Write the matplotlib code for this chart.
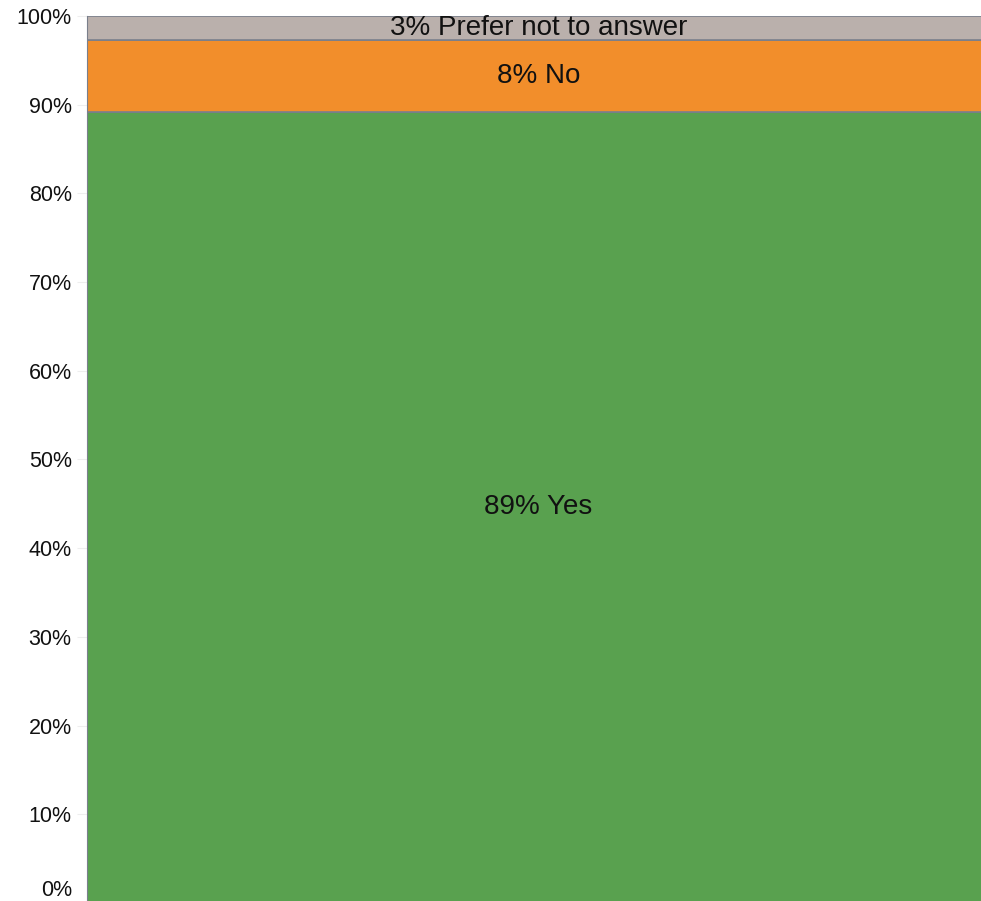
import matplotlib.pyplot as plt

categories = ['Yes', 'No', 'Prefer not to answer']
values = [89.2, 8.1, 2.7]
labels = ['89% Yes', '8% No', '3% Prefer not to answer']
colors = ['#59a14f', '#f28e2b', '#bab0ac']
yticks = [0, 10, 20, 30, 40, 50, 60, 70, 80, 90, 100]

plt.rcParams['font.family'] = ['Liberation Sans', 'DejaVu Sans']

fig = plt.figure(figsize=(9.81, 9.01), dpi=100)
ax = fig.add_axes([87 / 981, -2 / 901, 1.0, 885 / 901 + 2 / 901])

bottom = 0
for val, lab, col in zip(values, labels, colors):
    ax.bar(0.5, val, width=1.0, bottom=bottom, color=col,
           edgecolor='#7a7f8c', linewidth=1.2)
    ax.text(0.46, bottom + val / 2, lab, ha='center', va='center',
            fontsize=20, color='#111111')
    bottom += val

ax.set_xlim(0, 1.0)
ax.set_ylim(0, 100)
ax.set_yticks(yticks)
# bottom label is lifted so it stays inside the figure
ax.set_yticklabels([''] + [f'{t}%' for t in yticks[1:]], fontsize=15.5, color='#111111')
ax.annotate(f'{yticks[0]}%', xy=(0, yticks[0]), xycoords=('axes fraction', 'data'),
            xytext=(-15, 13), textcoords='offset pixels', ha='right', va='center',
            fontsize=15.5, color='#111111')
ax.tick_params(axis='y', length=7, color='#eeeeee', pad=4)
ax.set_xticks([])
for s in ['top', 'right', 'bottom']:
    ax.spines[s].set_visible(False)
ax.spines['left'].set_color('#7a7f8c')

fig.savefig('out.png', dpi=100)
